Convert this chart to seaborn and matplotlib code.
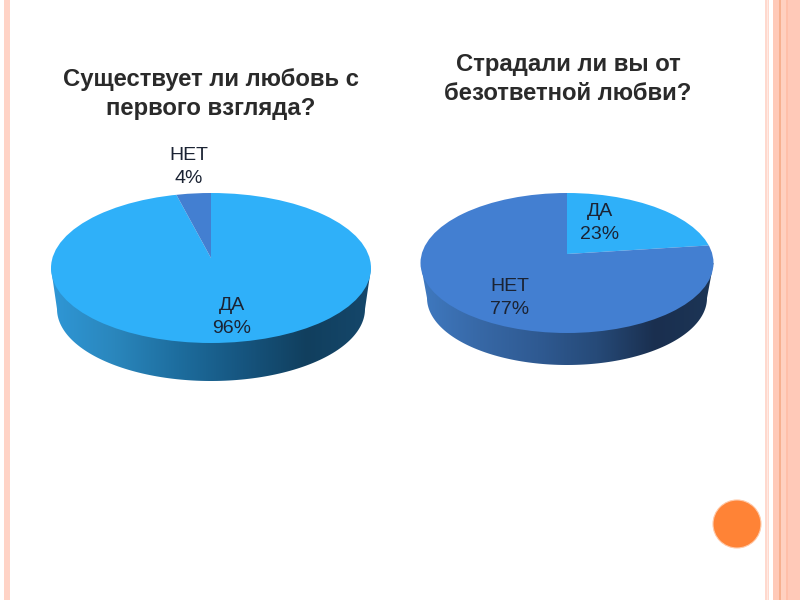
import numpy as np
import matplotlib
matplotlib.use("Agg")
import matplotlib.pyplot as plt
from matplotlib.patches import Ellipse, Polygon, Circle
import seaborn as sns

# --- data ---
titles = ["Существует ли любовь с\nпервого взгляда?", "Страдали ли вы от\nбезответной любви?"]
categories = ["ДА", "НЕТ"]
values_love = [96, 4]
values_unrequited = [23, 77]

# --- style ---
LIGHT = "#2FB0F9"
DARK = "#437FD1"
TEXT = "#1B2333"
wall_light = ["#2F97D6", "#2A86BC", "#1D6D9E", "#16557F", "#113F5E", "#15476B"]
wall_dark = ["#3F79C0", "#3768A6", "#2F5A92", "#264A78", "#1A2F4F", "#1C3556"]

sns.set_theme(style="white")
plt.rcParams["font.family"] = ["Liberation Sans", "DejaVu Sans"]

W, H = 800, 600
fig = plt.figure(figsize=(8, 6), dpi=100, facecolor="white")

# page decoration (pixel coordinates)
page = fig.add_axes([0, 0, 1, 1], zorder=0)
page.set_xlim(0, W)
page.set_ylim(H, 0)
page.axis("off")
stripes = [(4, 10, "#FFD3C6"), (765, 769, "#FFD9CE"), (766.5, 767.5, "#FFE9E2"),
           (773, 800, "#FFC9B8"), (779, 781, "#F7B08F"), (781, 786, "#FFD0C0"),
           (786, 788, "#FFBFA9")]
for x0, x1, c in stripes:
    page.axvspan(x0, x1, color=c, lw=0)
page.add_patch(Circle((737, 524), 24, facecolor="#FF8336", edgecolor="#FFC8A6", lw=0.8))


def pie3d(values, apex, top, bottom, wall):
    """apex=(x,y); top=(cy,rx,ry) top ellipse; bottom=(cy,rx,ry) lower ellipse, in pixels."""
    ax0, ay0 = apex
    tcy, trx, trY = top
    bcy, brx, brY = bottom
    l, r = ax0 - trx - 4, ax0 + trx + 4
    t, b = tcy - trY - 4, bcy + brY + 4
    ax = fig.add_axes([l / W, 1 - b / H, (r - l) / W, (b - t) / H], zorder=2)
    wedges, _ = ax.pie(values, colors=[LIGHT, DARK], startangle=90, counterclock=False,
                       radius=3, wedgeprops={"linewidth": 0})
    ax.set_aspect("auto")
    to_x = lambda px: (px - ax0) / trx
    to_y = lambda py: (ay0 - py) / trY
    xlim = (to_x(l), to_x(r))
    ylim = (to_y(b), to_y(t))
    ax.set_xlim(xlim)
    ax.set_ylim(ylim)
    clip = Ellipse((0, to_y(tcy)), 2, 2, transform=ax.transData)
    for w in wedges:
        w.set_clip_on(True)
        w.set_clip_path(clip)
        w.set_zorder(1)
    # side wall: horizontal gradient, clipped to the lower half of the drum
    cmap = sns.blend_palette(wall, as_cmap=True)
    th = np.linspace(np.pi, 2 * np.pi, 120)
    pts = [(to_x(ax0 - trx), to_y(tcy))]
    pts += [(to_x(ax0 + brx * np.cos(a)), to_y(bcy - brY * np.sin(a))) for a in th]
    pts += [(to_x(ax0 + trx), to_y(tcy))]
    grad = np.linspace(0, 1, 256)[None, :]
    im = ax.imshow(grad, cmap=cmap, aspect="auto", zorder=0,
                   extent=(to_x(ax0 - trx), to_x(ax0 + trx), to_y(bcy + brY), to_y(tcy)))
    im.set_clip_path(Polygon(pts, closed=True, transform=ax.transData))
    ax.set_xlim(xlim)
    ax.set_ylim(ylim)
    ax.axis("off")
    return ax


pie3d(values_love, (211, 258), (268, 160, 75), (309, 154, 72), wall_light)
pie3d(values_unrequited, (567, 254), (263, 146.5, 70), (298, 140, 67), wall_dark)

# text overlay (pixel coordinates)
over = fig.add_axes([0, 0, 1, 1], zorder=5)
over.set_xlim(0, W)
over.set_ylim(H, 0)
over.axis("off")
over.patch.set_alpha(0)

for x, y, s in [(211, 94, titles[0]), (568, 79, titles[1])]:
    over.text(x, y, s, ha="center", va="center", fontsize=17.2, fontweight="bold",
              color="#2A2A2A", linespacing=1.29)

labels = [(189, 167, categories[1], values_love[1]),
          (232, 317, categories[0], values_love[0]),
          (600, 223, categories[0], values_unrequited[0]),
          (510, 298, categories[1], values_unrequited[1])]
for x, y, cat, val in labels:
    over.text(x, y, f"{cat}\n{val}%", ha="center", va="center", fontsize=14,
              color=TEXT, linespacing=1.5)

fig.savefig("out.png", dpi=100)
